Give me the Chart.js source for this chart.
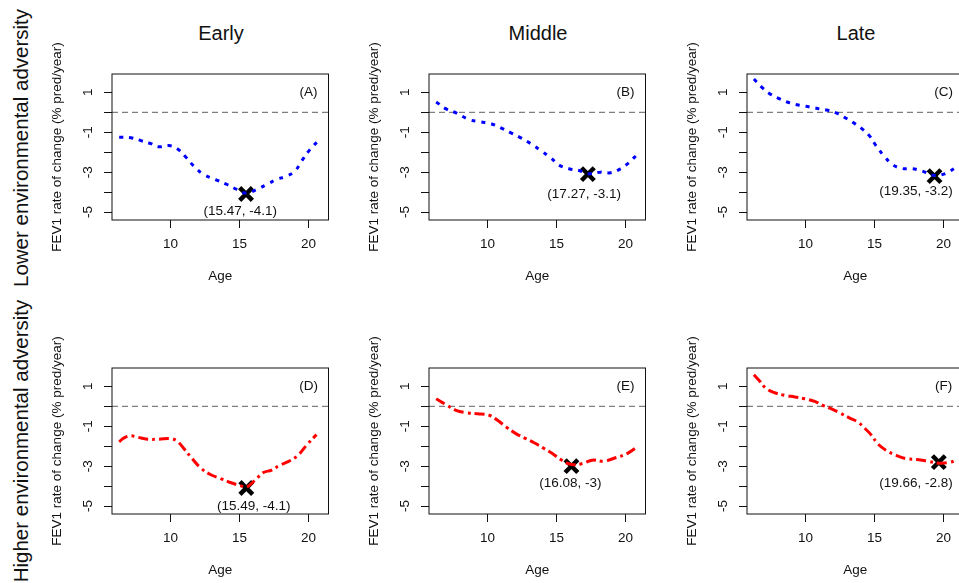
<!DOCTYPE html>
<html>
<head>
<meta charset="utf-8">
<script src="https://cdn.jsdelivr.net/npm/chart.js@4.4.1/dist/chart.umd.min.js"></script>
<style>
  html, body { margin: 0; padding: 0; background: #fff; overflow: hidden; width: 959px; height: 583px; }
  body { position: relative; font-family: "Liberation Sans", Arial, sans-serif; color: #111; }
  canvas { position: absolute; }
  .col { position: absolute; top: 20px; width: 218px; text-align: center; font-size: 20px; line-height: 26px; }
  .row { position: absolute; font-size: 20.5px; line-height: 24px; white-space: nowrap;
         transform: translate(-50%, -50%) rotate(-90deg); }
</style>
</head>
<body>
<div class="col" style="left:112px">Early</div>
<div class="col" style="left:429px">Middle</div>
<div class="col" style="left:747px">Late</div>
<div class="row" style="left:21px; top:148px">Lower environmental adversity</div>
<div class="row" style="left:21px; top:441px">Higher environmental adversity</div>

<canvas id="pA" width="300" height="256" style="left:42px; top:34px"></canvas>
<canvas id="pB" width="300" height="256" style="left:359px; top:34px"></canvas>
<canvas id="pC" width="300" height="256" style="left:677px; top:34px"></canvas>
<canvas id="pD" width="300" height="256" style="left:42px; top:328px"></canvas>
<canvas id="pE" width="300" height="256" style="left:359px; top:328px"></canvas>
<canvas id="pF" width="300" height="256" style="left:677px; top:328px"></canvas>

<script>
// values
var ageA = [6.27, 7.12, 7.84, 8.56, 9.16, 9.88, 10.48, 11.08, 11.68, 12.4, 13.25, 14.09, 14.81, 15.47, 16.25, 16.97, 17.69, 18.41, 19.01, 19.5, 20.1, 20.75];
var fevA = [-1.25, -1.28, -1.42, -1.57, -1.73, -1.67, -1.83, -2.23, -2.7, -3.12, -3.37, -3.62, -3.87, -4.05, -3.87, -3.62, -3.37, -3.2, -2.95, -2.45, -1.87, -1.4];

var ageB = [6.27, 6.99, 7.71, 8.67, 9.52, 10.24, 10.96, 11.69, 12.41, 13.13, 13.86, 14.58, 15.18, 15.9, 16.63, 17.27, 18.19, 18.92, 19.64, 20.24, 20.84];
var fevB = [0.52, 0.17, -0.03, -0.37, -0.48, -0.57, -0.78, -1.03, -1.28, -1.57, -1.92, -2.28, -2.65, -2.83, -2.92, -3.08, -3.0, -3.03, -2.83, -2.53, -2.12];

var ageC = [6.25, 6.8, 7.4, 8.12, 8.85, 9.57, 10.29, 11.01, 11.61, 12.21, 12.81, 13.41, 14.01, 14.62, 15.1, 15.7, 16.3, 17.02, 17.74, 18.46, 19.35, 20.14, 20.87];
var fevC = [1.67, 1.27, 0.93, 0.67, 0.47, 0.35, 0.27, 0.17, 0.1, -0.03, -0.25, -0.5, -0.78, -1.17, -1.67, -2.2, -2.62, -2.82, -2.83, -2.95, -3.17, -3.07, -2.78];

var ageD = [6.27, 6.63, 7.12, 7.6, 8.32, 9.16, 10.0, 10.48, 10.96, 11.56, 12.16, 12.88, 13.61, 14.33, 15.05, 15.49, 16.13, 16.73, 17.33, 17.93, 18.65, 19.25, 19.86, 20.58];
var fevD = [-1.78, -1.58, -1.48, -1.55, -1.65, -1.65, -1.62, -1.75, -2.12, -2.62, -3.08, -3.42, -3.62, -3.82, -3.98, -4.05, -3.7, -3.32, -3.2, -2.95, -2.73, -2.45, -1.95, -1.42];

var ageE = [6.27, 6.99, 7.71, 8.43, 9.28, 10.12, 10.72, 11.33, 12.05, 12.77, 13.37, 14.1, 14.7, 15.3, 16.08, 16.87, 17.59, 18.43, 19.28, 20.12, 20.92];
var fevE = [0.38, 0.08, -0.2, -0.32, -0.37, -0.45, -0.7, -1.03, -1.37, -1.62, -1.83, -2.12, -2.37, -2.67, -2.92, -2.87, -2.7, -2.75, -2.58, -2.37, -2.0];

var ageF = [6.25, 6.68, 7.16, 7.76, 8.49, 9.21, 9.93, 10.65, 11.25, 11.85, 12.45, 13.17, 13.77, 14.25, 14.74, 15.22, 15.82, 16.54, 17.26, 18.1, 18.82, 19.66, 20.38, 20.99];
var fevF = [1.58, 1.25, 0.88, 0.68, 0.55, 0.47, 0.38, 0.25, 0.05, -0.12, -0.32, -0.58, -0.78, -1.08, -1.42, -1.87, -2.2, -2.45, -2.62, -2.67, -2.75, -2.85, -2.82, -2.7];

// lowest point of each curve (the black X) and where its label sits
var minAge = [15.47, 17.27, 19.35, 15.49, 16.08, 19.66];
var minFev = [-4.1, -3.1, -3.2, -4.1, -3, -2.8];
var noteAge = [15.05, 17.0, 18.0, 16.03, 16.0, 18.0];
var noteFev = [-4.98, -4.12, -3.98, -5.0, -3.87, -3.87];

var tags = ['(A)', '(B)', '(C)', '(D)', '(E)', '(F)'];
var tagAge = 20, tagFev = 1;
var refLine = 0;

var xTicks = [10, 15, 20];
var yTicks = [1, 0, -1, -2, -3, -4, -5];
var yLabels = [1, -1, -3, -5];
var yTitle = 'FEV1 rate of change (% pred/year)';

var family = "'Liberation Sans', Arial, sans-serif";
var ink = '#111';

var panelDecor = {
  id: 'panelDecor',
  beforeDatasetsDraw: function (chart) {
    var ctx = chart.ctx, a = chart.chartArea;
    var y0 = chart.scales.y.getPixelForValue(refLine);
    ctx.save();
    ctx.strokeStyle = '#7f7f7f';
    ctx.lineWidth = 1.2;
    ctx.setLineDash([6, 4]);
    ctx.beginPath();
    ctx.moveTo(a.left, y0);
    ctx.lineTo(a.right, y0);
    ctx.stroke();
    ctx.restore();
  },
  afterDraw: function (chart, args, opts) {
    var ctx = chart.ctx, a = chart.chartArea;
    var x = chart.scales.x, y = chart.scales.y;
    ctx.save();
    ctx.strokeStyle = ink;
    ctx.lineWidth = 1;
    ctx.strokeRect(a.left, a.top, a.right - a.left, a.bottom - a.top);
    ctx.fillStyle = ink;
    ctx.font = '13.5px ' + family;
    ctx.textAlign = 'center';
    ctx.textBaseline = 'middle';
    // R style y labels, turned to run along the axis
    yLabels.forEach(function (v) {
      ctx.save();
      ctx.translate(a.left - 24, y.getPixelForValue(v));
      ctx.rotate(-Math.PI / 2);
      ctx.fillText(String(v), 0, 0);
      ctx.restore();
    });
    // axis title is longer than the plot is tall, so draw it here
    ctx.save();
    ctx.translate(a.left - 55, (a.top + a.bottom) / 2);
    ctx.rotate(-Math.PI / 2);
    ctx.fillText(yTitle, 0, 0);
    ctx.restore();
    ctx.fillText(opts.tag, x.getPixelForValue(tagAge), y.getPixelForValue(tagFev));
    ctx.fillText(opts.note, x.getPixelForValue(opts.noteAge), y.getPixelForValue(opts.noteFev));
    ctx.restore();
  }
};

function makePanel(id, i, ages, fevs, color, dash) {
  var pts = ages.map(function (a, k) { return { x: a, y: fevs[k] }; });
  new Chart(document.getElementById(id), {
    type: 'line',
    data: {
      datasets: [{
        data: pts,
        borderColor: color,
        borderWidth: 3,
        borderDash: dash,
        pointRadius: 0,
        tension: 0.4,
        fill: false
      }, {
        data: [{ x: minAge[i], y: minFev[i] }],
        showLine: false,
        pointStyle: 'crossRot',
        pointRadius: 9,
        pointBorderWidth: 4.5,
        pointBorderColor: '#000',
        pointBackgroundColor: '#000'
      }]
    },
    options: {
      responsive: false,
      animation: false,
      layout: { padding: { top: 40, right: 12, left: 0, bottom: 0 } },
      plugins: {
        legend: { display: false },
        tooltip: { enabled: false },
        panelDecor: {
          tag: tags[i],
          note: '(' + minAge[i] + ', ' + minFev[i] + ')',
          noteAge: noteAge[i],
          noteFev: noteFev[i]
        }
      },
      scales: {
        x: {
          type: 'linear',
          min: 5.75,
          max: 21.45,
          afterFit: function (s) { s.height = 70; },
          afterBuildTicks: function (s) { s.ticks = xTicks.map(function (v) { return { value: v }; }); },
          ticks: { color: ink, font: { family: family, size: 13.5 }, padding: 8, maxRotation: 0, autoSkip: false },
          grid: { drawOnChartArea: false, tickLength: 8, color: ink, lineWidth: 1 },
          border: { display: false },
          title: { display: true, text: 'Age', color: ink, font: { family: family, size: 13.5 }, padding: { top: 0, bottom: 6 } }
        },
        y: {
          type: 'linear',
          min: -5.4,
          max: 1.92,
          afterFit: function (s) { s.width = 70; },
          afterBuildTicks: function (s) { s.ticks = yTicks.map(function (v) { return { value: v }; }); },
          ticks: { display: false },
          grid: { drawOnChartArea: false, tickLength: 8, color: ink, lineWidth: 1 },
          border: { display: false },
          title: { display: false }
        }
      }
    },
    plugins: [panelDecor]
  });
}

var dotted = [4, 6];
var dashDot = [10, 4, 3, 4];
makePanel('pA', 0, ageA, fevA, '#0000ff', dotted);
makePanel('pB', 1, ageB, fevB, '#0000ff', dotted);
makePanel('pC', 2, ageC, fevC, '#0000ff', dotted);
makePanel('pD', 3, ageD, fevD, '#ff0000', dashDot);
makePanel('pE', 4, ageE, fevE, '#ff0000', dashDot);
makePanel('pF', 5, ageF, fevF, '#ff0000', dashDot);
</script>
</body>
</html>
